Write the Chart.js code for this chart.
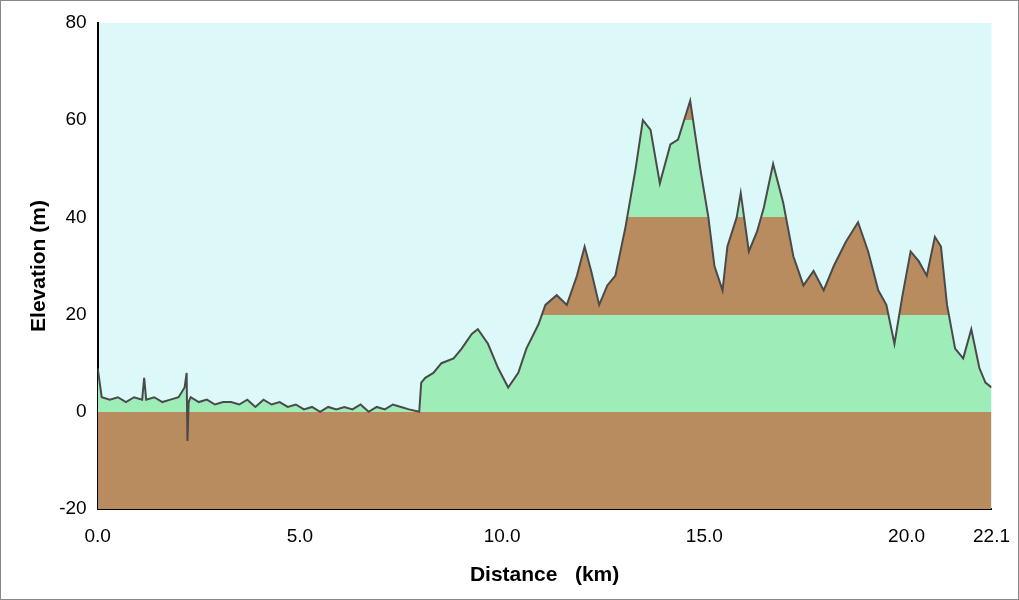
<!DOCTYPE html>
<html>
<head>
<meta charset="utf-8">
<script src="https://cdn.jsdelivr.net/npm/chart.js@4.4.0/dist/chart.umd.min.js"></script>
<style>
  body { margin: 0; background: #fff; }
  #wrap { width: 1017px; height: 598px; border: 1px solid #888; position: relative; }
</style>
</head>
<body>
<div id="wrap"><canvas id="c" width="1017" height="598"></canvas></div>
<script>
// distance in km
var distances = [0, 0.1, 0.3, 0.5, 0.7, 0.9, 1.1, 1.15, 1.2, 1.4, 1.6, 1.8, 2.0, 2.15, 2.2, 2.22, 2.25, 2.3, 2.5, 2.7, 2.9, 3.1, 3.3, 3.5, 3.7, 3.9, 4.1, 4.3, 4.5, 4.7, 4.9, 5.1, 5.3, 5.5, 5.7, 5.9, 6.1, 6.3, 6.5, 6.7, 6.9, 7.1, 7.3, 7.5, 7.7, 7.95, 8.0, 8.1, 8.3, 8.5, 8.8, 9.0, 9.25, 9.4, 9.65, 9.9, 10.15, 10.4, 10.6, 10.9, 11.07, 11.35, 11.6, 11.85, 12.04, 12.2, 12.4, 12.6, 12.8, 13.05, 13.3, 13.48, 13.67, 13.9, 14.16, 14.35, 14.65, 14.9, 15.1, 15.25, 15.45, 15.57, 15.8, 15.9, 16.1, 16.3, 16.47, 16.7, 16.95, 17.2, 17.45, 17.7, 17.95, 18.2, 18.5, 18.8, 19.05, 19.3, 19.5, 19.7, 19.9, 20.1, 20.3, 20.5, 20.7, 20.85, 21.0, 21.2, 21.4, 21.6, 21.8, 21.95, 22.1];
// elevation in m
var elevations = [9, 3, 2.5, 3, 2, 3, 2.5, 7, 2.5, 3, 2, 2.5, 3, 5, 8, -6, 2, 3, 2, 2.5, 1.5, 2, 2, 1.5, 2.5, 1, 2.5, 1.5, 2, 1, 1.5, 0.5, 1, 0, 1, 0.5, 1, 0.5, 1.5, 0, 1, 0.5, 1.5, 1, 0.5, 0, 6, 7, 8, 10, 11, 13, 16, 17, 14, 9, 5, 8, 13, 18, 22, 24, 22, 28, 34, 29, 22, 26, 28, 38, 50, 60, 58, 47, 55, 56, 64, 50, 40, 30, 25, 34, 40, 45, 33, 37, 42, 51, 43, 32, 26, 29, 25, 30, 35, 39, 33, 25, 22, 14, 24, 33, 31, 28, 36, 34, 22, 13, 11, 17, 9, 6, 5];
var xTicks = [0, 5, 10, 15, 20, 22.1];
var bandEdges = [0, 20, 40, 60];

var green = '#9eecb8', brown = '#b98c60';

function bandFill(ctx) {
  var chart = ctx.chart, area = chart.chartArea, y = chart.scales.y;
  if (!area) return brown;
  var g = chart.ctx.createLinearGradient(0, area.bottom, 0, area.top);
  var h = area.bottom - area.top;
  var cols = [brown, green, brown, green, brown];
  var prev = 0;
  bandEdges.forEach(function (v, i) {
    var t = (area.bottom - y.getPixelForValue(v)) / h;
    g.addColorStop(prev, cols[i]); g.addColorStop(t, cols[i]);
    prev = t;
  });
  g.addColorStop(prev, cols[4]); g.addColorStop(1, cols[4]);
  return g;
}

var bgPlugin = {
  id: 'bg',
  beforeDraw: function (chart) {
    var a = chart.chartArea, c = chart.ctx;
    c.save(); c.fillStyle = '#dcf8f8';
    c.fillRect(a.left, a.top, a.right - a.left, a.bottom - a.top);
    c.restore();
  }
};

new Chart(document.getElementById('c'), {
  type: 'line',
  data: {
    datasets: [{
      data: distances.map(function (d, i) { return { x: d, y: elevations[i] }; }),
      borderColor: '#4a4a4a', borderWidth: 2, pointRadius: 0, tension: 0,
      fill: 'start', backgroundColor: bandFill
    }]
  },
  options: {
    responsive: false, animation: false,
    layout: { padding: { top: 22, right: 0, left: 22, bottom: 11 } },
    plugins: { legend: { display: false }, tooltip: { enabled: false } },
    scales: {
      x: {
        type: 'linear', min: 0, max: 22.1,
        afterBuildTicks: function (s) { s.ticks = xTicks.map(function (v) { return { value: v }; }); },
        ticks: { callback: function (v) { return v.toFixed(1); }, color: '#000', font: { family: 'Liberation Sans', size: 19 }, maxRotation: 0, autoSkip: false, padding: 8 },
        grid: { display: false, drawTicks: true }, border: { color: '#000', width: 2 },
        title: { display: true, text: 'Distance   (km)', color: '#000', font: { family: 'Liberation Sans', size: 21, weight: 'bold' }, padding: { top: 7, bottom: 0 } }
      },
      y: {
        min: -20, max: 80,
        ticks: { stepSize: 20, color: '#000', font: { family: 'Liberation Sans', size: 19 } },
        grid: { display: false }, border: { color: '#000', width: 2 },
        title: { display: true, text: 'Elevation (m)', color: '#000', font: { family: 'Liberation Sans', size: 21, weight: 'bold' } }
      }
    }
  },
  plugins: [bgPlugin]
});
</script>
</body>
</html>
